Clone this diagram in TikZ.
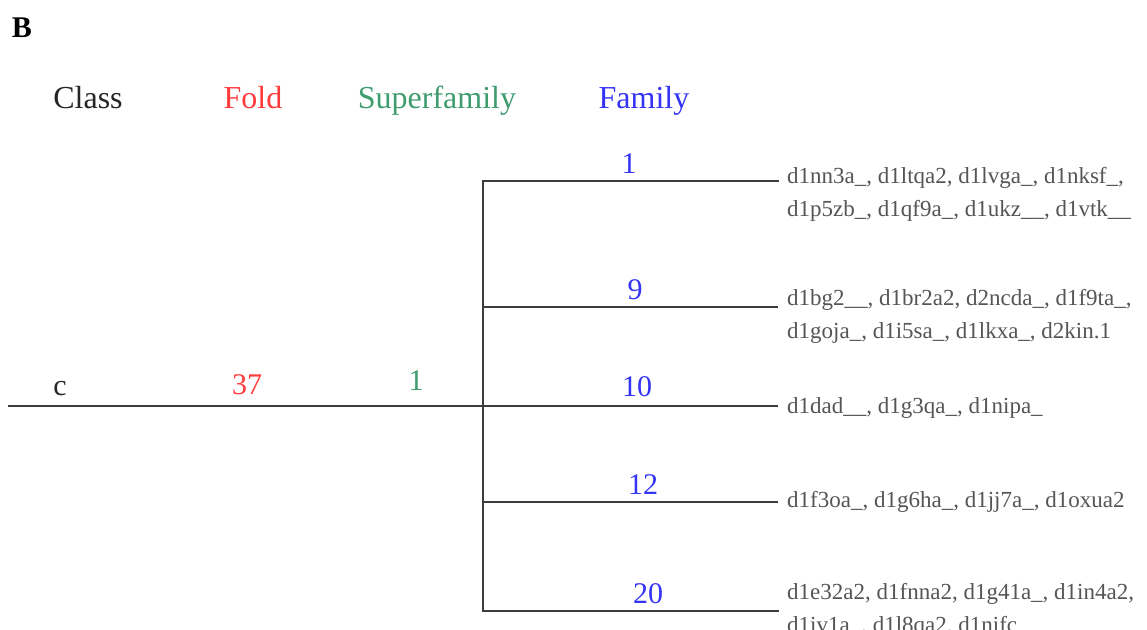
\documentclass[tikz,border=0pt]{standalone}
\usepackage{fontspec}
\setmainfont{Liberation Serif}
\definecolor{foldred}{HTML}{FF3B3B}
\definecolor{supgreen}{HTML}{3F9C6E}
\definecolor{famblue}{HTML}{3434F5}
\definecolor{idgray}{HTML}{555555}
\definecolor{linegray}{HTML}{3C3C3C}
\tikzset{
  head/.style={anchor=base, inner sep=0pt, font=\fontsize{32}{36}\selectfont},
  num/.style={anchor=base, inner sep=0pt, font=\fontsize{30}{36}\selectfont},
  ids/.style={anchor=base west, inner sep=0pt, text=idgray, align=left,
    font=\fontsize{23}{32.5}\selectfont},
  branch/.style={draw=linegray, line width=2.3pt},
}
\begin{document}
\begin{tikzpicture}[x=1pt, y=-1pt]
\useasboundingbox (0,0) rectangle (1147,629);
\clip (0,0) rectangle (1147,629);

% panel letter and column headers
\node[anchor=base, inner sep=0pt, font=\fontsize{30}{36}\selectfont\bfseries] (panel) at (22,37) {B};
\node[head, text=black!85] (hclass) at (88,108) {Class};
\node[head, text=foldred] (hfold) at (253,108) {Fold};
\node[head, text=supgreen] (hsup) at (437,108) {Superfamily};
\node[head, text=famblue] (hfam) at (644,108) {Family};

% tree skeleton
\coordinate (root) at (8,406);
\coordinate (junc) at (483,406);
\coordinate (j1) at (483,181);
\coordinate (j9) at (483,307);
\coordinate (j12) at (483,502);
\coordinate (j20) at (483,611);
\coordinate (e1) at (778,181);
\coordinate (e9) at (778,307);
\coordinate (e10) at (778,406);
\coordinate (e12) at (778,502);
\coordinate (e20) at (778,611);

\draw[branch] (root) -- (junc);
\draw[branch, line cap=rect] (j1) -- (j20);
\draw[branch, line cap=rect] (j1) -- (e1);
\draw[branch] (j9) -- (e9);
\draw[branch] (junc) -- (e10);
\draw[branch] (j12) -- (e12);
\draw[branch, line cap=rect] (j20) -- (e20);

% class, fold and superfamily labels
\node[num, text=black!85] (lc) at (60,395) {c};
\node[num, text=foldred] (l37) at (247,394) {37};
\node[num, text=supgreen] (lsup) at (416,390) {1};

% family labels
\node[num, text=famblue] (f1) at (629,173) {1};
\node[num, text=famblue] (f9) at (635,299) {9};
\node[num, text=famblue] (f10) at (637,396) {10};
\node[num, text=famblue] (f12) at (643,494) {12};
\node[num, text=famblue] (f20) at (648,603) {20};

% domain lists (a two-line list is placed by the baseline of its last line)
\node[ids] (d1) at (787,216) {d1nn3a\_, d1ltqa2, d1lvga\_, d1nksf\_,\\d1p5zb\_, d1qf9a\_, d1ukz\_\_, d1vtk\_\_};
\node[ids] (d9) at (787,338) {d1bg2\_\_, d1br2a2, d2ncda\_, d1f9ta\_,\\d1goja\_, d1i5sa\_, d1lkxa\_, d2kin.1};
\node[ids] (d10) at (787,413) {d1dad\_\_, d1g3qa\_, d1nipa\_};
\node[ids] (d12) at (787,507) {d1f3oa\_, d1g6ha\_, d1jj7a\_, d1oxua2};
\node[ids] (d20) at (787,632) {d1e32a2, d1fnna2, d1g41a\_, d1in4a2,\\d1iv1a\_, d1l8qa2, d1nifc};
\end{tikzpicture}
\end{document}
